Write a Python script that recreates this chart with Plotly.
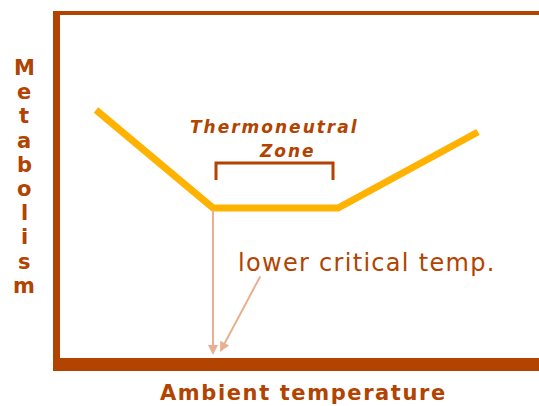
import plotly.graph_objects as go

# Data (arbitrary units: ambient temperature vs metabolism)
temp = [3.6, 15.3, 27.8, 41.8]
metab = [24.8, 15.0, 15.0, 22.6]

zone_x = [15.6, 15.6, 27.3, 27.3]
zone_y = [17.8, 19.5, 19.5, 17.8]

lct_x = 15.3
lct_y = 15.0
arrow_tip_y = 0.3
label_arrow_tail = (20.1, 8.3)
label_arrow_head = (16.0, 0.6)

x_title = "Ambient temperature"
y_title = "Metabolism"
zone_label_1 = "Thermoneutral"
zone_label_2 = "Zone"
lct_label = "lower critical temp."

BROWN = "#b24300"
YELLOW = "#ffb300"
ARROW = "#e8b090"

W, H = 539, 406
ML, MT, MB = 60, 15, 48
PW, PH = W - ML, H - MT - MB  # plot area in px


def px_x(p):
    return (p - ML) / PW


def px_y(p):
    return (H - MB - p) / PH


fig = go.Figure()
fig.add_trace(go.Scatter(x=temp, y=metab, mode="lines",
                         line=dict(color=YELLOW, width=7), hoverinfo="skip"))
fig.add_trace(go.Scatter(x=zone_x, y=zone_y, mode="lines",
                         line=dict(color=BROWN, width=3), hoverinfo="skip"))

annotations = [
    dict(x=lct_x, y=arrow_tip_y, ax=lct_x, ay=lct_y, xref="x", yref="y",
         axref="x", ayref="y", showarrow=True, arrowhead=2, arrowsize=1,
         arrowwidth=2, arrowcolor=ARROW, text=""),
    dict(x=label_arrow_head[0], y=label_arrow_head[1],
         ax=label_arrow_tail[0], ay=label_arrow_tail[1], xref="x", yref="y",
         axref="x", ayref="y", showarrow=True, arrowhead=2, arrowsize=1,
         arrowwidth=2, arrowcolor=ARROW, text=""),
    dict(x=17.6, y=9.5, xref="x", yref="y", xanchor="left", yanchor="middle",
         showarrow=False,
         text="<span style='letter-spacing:1.3px'>" + lct_label + "</span>",
         font=dict(family="DejaVu Sans", size=24, color=BROWN)),
    dict(x=px_x(274), y=px_y(127), xref="paper", yref="paper", xanchor="center", yanchor="middle",
         showarrow=False,
         text="<b><i><span style='letter-spacing:2px'>" + zone_label_1 + "</span></i></b>",
         font=dict(family="DejaVu Sans", size=17, color=BROWN)),
    dict(x=px_x(287), y=px_y(151), xref="paper", yref="paper", xanchor="center", yanchor="middle",
         showarrow=False,
         text="<b><i><span style='letter-spacing:2px'>" + zone_label_2 + "</span></i></b>",
         font=dict(family="DejaVu Sans", size=17, color=BROWN)),
    dict(x=px_x(303), y=px_y(393), xref="paper", yref="paper",
         xanchor="center", yanchor="middle", showarrow=False,
         text="<b><span style='letter-spacing:1.6px'>" + x_title + "</span></b>",
         font=dict(family="DejaVu Sans", size=21, color=BROWN)),
]

# stacked vertical y title, one letter per line
for i, ch in enumerate(y_title):
    annotations.append(dict(x=px_x(24), y=px_y(68 + i * 24.2), xref="paper", yref="paper",
                            xanchor="center", yanchor="middle", showarrow=False,
                            text="<b>" + ch + "</b>",
                            font=dict(family="DejaVu Sans", size=21, color=BROWN)))

shapes = [
    # left border
    dict(type="rect", xref="paper", yref="paper", x0=px_x(53), x1=px_x(60), y0=px_y(371), y1=px_y(11),
         fillcolor=BROWN, line=dict(width=0), layer="above"),
    # top border
    dict(type="rect", xref="paper", yref="paper", x0=px_x(53), x1=px_x(545), y0=px_y(15), y1=px_y(11),
         fillcolor=BROWN, line=dict(width=0), layer="above"),
    # bottom border
    dict(type="rect", xref="paper", yref="paper", x0=px_x(53), x1=px_x(545), y0=px_y(371), y1=px_y(358),
         fillcolor=BROWN, line=dict(width=0), layer="above"),
]

fig.update_layout(
    width=W, height=H,
    margin=dict(l=ML, r=0, t=MT, b=MB),
    paper_bgcolor="white", plot_bgcolor="white",
    showlegend=False,
    xaxis=dict(range=[0, PW / 10], visible=False, fixedrange=True),
    yaxis=dict(range=[0, PH / 10], visible=False, fixedrange=True),
    annotations=annotations,
    shapes=shapes,
)

fig.write_html("out.html", config={"displayModeBar": False},
               post_script="document.body.style.margin='0';document.body.style.overflow='hidden';")
